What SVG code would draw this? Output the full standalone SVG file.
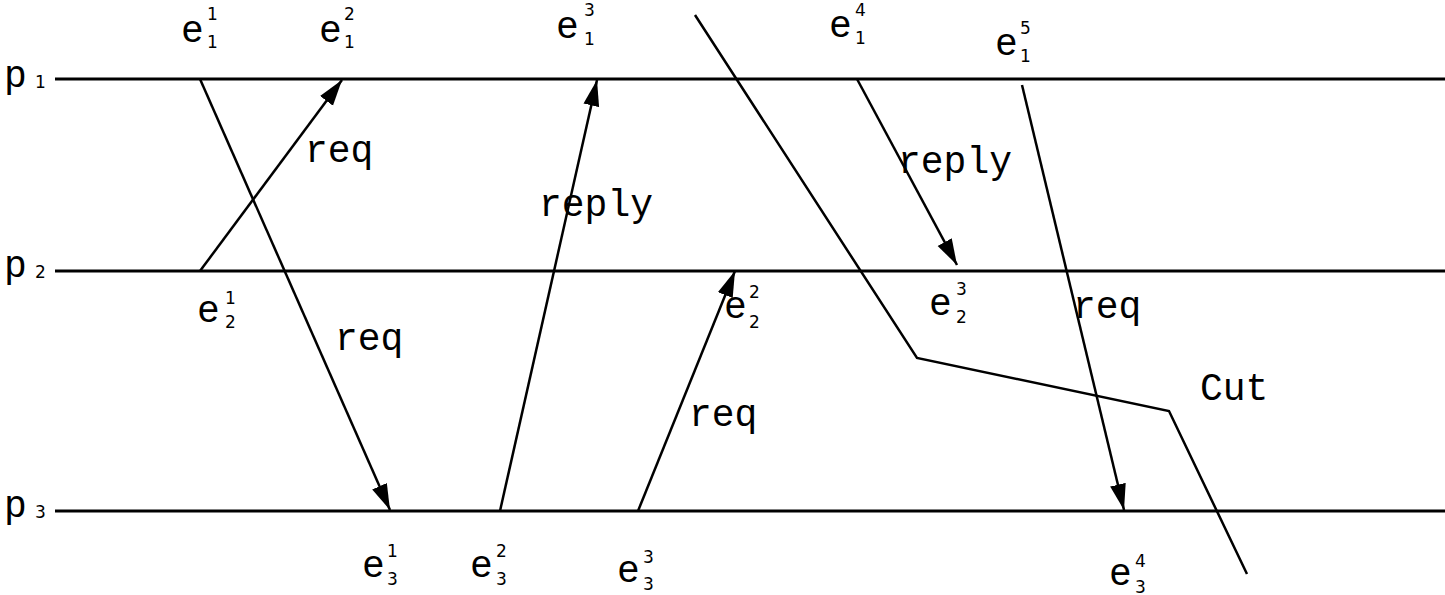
<svg xmlns="http://www.w3.org/2000/svg" width="1445" height="595" viewBox="0 0 1445 595">
<defs>
<marker id="ah" markerUnits="userSpaceOnUse" markerWidth="28" markerHeight="18" refX="26" refY="8" orient="auto">
<path d="M0,0 L26,8 L0,16 z" fill="#000"/>
</marker>
<style>
.proc{stroke:#000;stroke-width:3;fill:none}
.msg{stroke:#000;stroke-width:2.5;fill:none}
.arr{marker-end:url(#ah)}
.m{font-family:'Courier New','Liberation Mono',Courier,monospace;font-size:38px;fill:#000}
.d{font-family:'DejaVu Sans',sans-serif;font-size:17px;fill:#000}
</style>
</defs>
<rect width="1445" height="595" fill="#fff"/>
<g id="p1"><line class="proc" x1="55" y1="79" x2="1445" y2="79"/><text class="m" x="4" y="87">p</text><text class="d" x="35" y="88">1</text></g>
<g id="p2"><line class="proc" x1="55" y1="271" x2="1445" y2="271"/><text class="m" x="4" y="277">p</text><text class="d" x="35" y="278">2</text></g>
<g id="p3"><line class="proc" x1="55" y1="511" x2="1445" y2="511"/><text class="m" x="4" y="517">p</text><text class="d" x="35" y="518">3</text></g>
<g id="connectors">
<line class="msg arr" x1="200" y1="79" x2="390" y2="510"/>
<line class="msg arr" x1="200" y1="271" x2="342" y2="80"/>
<line class="msg arr" x1="500" y1="511" x2="597" y2="80"/>
<line class="msg arr" x1="638" y1="511" x2="735" y2="271"/>
<line class="msg arr" x1="857" y1="79" x2="957" y2="265"/>
<line class="msg arr" x1="1022" y1="85" x2="1124" y2="510"/>
</g>
<g id="cut"><polyline class="msg" points="695,15 917,358 1169,411 1247,574"/><text class="m" x="1200" y="400">Cut</text></g>
<g id="labels">
<text class="m" x="305" y="162">req</text>
<text class="m" x="539" y="216">reply</text>
<text class="m" x="335" y="350">req</text>
<text class="m" x="689" y="426">req</text>
<text class="m" x="898" y="173">reply</text>
<text class="m" x="1073" y="318">req</text>
</g>
<g id="e11"><text class="m" x="181" y="42">e</text><text class="d" x="207" y="20">1</text><text class="d" x="207" y="48">1</text></g>
<g id="e12"><text class="m" x="319" y="42">e</text><text class="d" x="344" y="20">2</text><text class="d" x="344" y="48">1</text></g>
<g id="e13"><text class="m" x="556" y="38">e</text><text class="d" x="584" y="16">3</text><text class="d" x="584" y="45">1</text></g>
<g id="e14"><text class="m" x="829" y="37">e</text><text class="d" x="855" y="16">4</text><text class="d" x="855" y="44">1</text></g>
<g id="e15"><text class="m" x="995" y="55">e</text><text class="d" x="1020" y="34">5</text><text class="d" x="1020" y="62">1</text></g>
<g id="e21"><text class="m" x="197" y="322">e</text><text class="d" x="225" y="304">1</text><text class="d" x="225" y="328">2</text></g>
<g id="e22"><text class="m" x="724" y="318">e</text><text class="d" x="749" y="298">2</text><text class="d" x="749" y="328">2</text></g>
<g id="e23"><text class="m" x="929" y="315">e</text><text class="d" x="956" y="295">3</text><text class="d" x="956" y="323">2</text></g>
<g id="e31"><text class="m" x="362" y="577">e</text><text class="d" x="387" y="557">1</text><text class="d" x="387" y="585">3</text></g>
<g id="e32"><text class="m" x="470" y="577">e</text><text class="d" x="496" y="557">2</text><text class="d" x="496" y="585">3</text></g>
<g id="e33"><text class="m" x="617" y="582">e</text><text class="d" x="643" y="563">3</text><text class="d" x="643" y="590">3</text></g>
<g id="e34"><text class="m" x="1109" y="585">e</text><text class="d" x="1135" y="567">4</text><text class="d" x="1135" y="593">3</text></g>
</svg>
